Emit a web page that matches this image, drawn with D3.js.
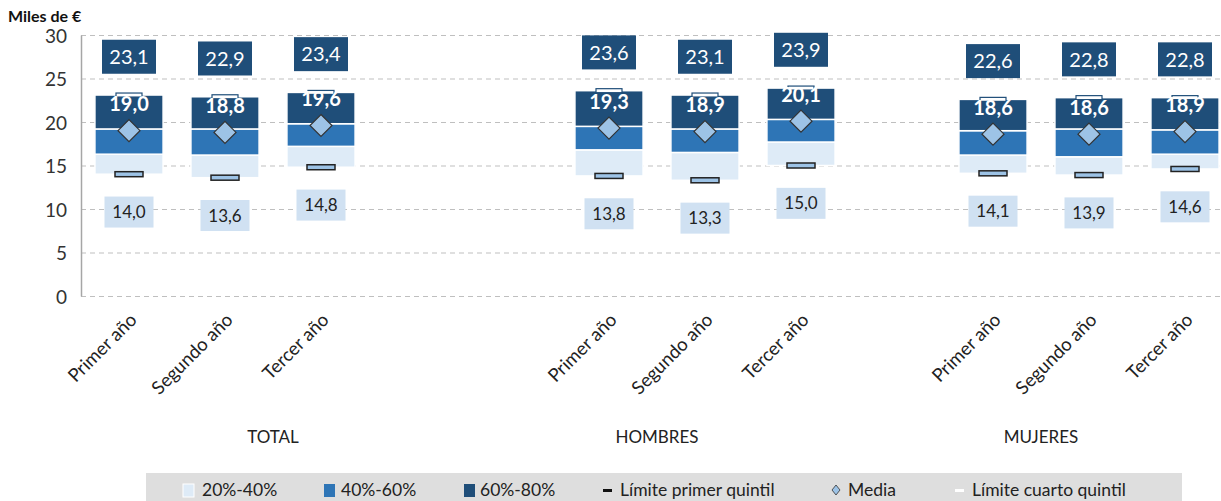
<!DOCTYPE html>
<html><head><meta charset="utf-8">
<script src="https://cdn.jsdelivr.net/npm/d3@7"></script>
<style>
body{margin:0;background:#fff;}
svg text{font-family:Lato,"Open Sans",sans-serif;}
</style></head>
<body><svg id="c" width="1221" height="501"></svg>
<script>
const groups = ["TOTAL","HOMBRES","MUJERES"];
const years = ["Primer año","Segundo año","Tercer año"];
// order: TOTAL(3), HOMBRES(3), MUJERES(3)
const p20  = [14.0,13.6,14.8, 13.8,13.3,15.0, 14.1,13.9,14.6];
const p40  = [16.3,16.2,17.2, 16.8,16.5,17.7, 16.2,16.0,16.3];
const p60  = [19.2,19.2,19.8, 19.5,19.2,20.3, 19.0,19.2,19.1];
const p80  = [23.1,22.9,23.4, 23.6,23.1,23.9, 22.6,22.8,22.8];
const media= [19.0,18.8,19.6, 19.3,18.9,20.1, 18.6,18.6,18.9];
const yTicks = [0,5,10,15,20,25,30];
const legendLabels = ["20%-40%","40%-60%","60%-80%","Límite primer quintil","Media","Límite cuarto quintil"];

const C_LIGHT="#deebf7", C_MED="#2e75b6", C_DARK="#1f4e79", C_DIAM="#9dc3e6", C_LBOX="#d0e1f2";
const fmt = v => v.toFixed(1).replace(".", ",");

// slots: each group has 4 slots; TOTAL has gap at end, others at start
const slots = [];
groups.forEach((g,gi)=>{
  if(gi>0) slots.push(g+"|gap");
  years.forEach(y=>slots.push(g+"|"+y));
  if(gi===0) slots.push(g+"|gap");
});
const data = [];
groups.forEach((g,gi)=>years.forEach((y,yi)=>{
  const i=gi*3+yi;
  data.push({key:g+"|"+y, year:y, group:g, p20:p20[i],p40:p40[i],p60:p60[i],p80:p80[i],mean:media[i]});
}));

const svg = d3.select("#c");
const x = d3.scaleBand().domain(slots).range([81,1233]).paddingInner(0.29).paddingOuter(0.145);
const y = d3.scaleLinear().domain([0,30]).range([296,35]);

// gridlines
svg.append("g").selectAll("line").data(yTicks).join("line")
  .attr("x1",81).attr("x2",1221).attr("y1",d=>y(d)+0.5).attr("y2",d=>y(d)+0.5)
  .attr("stroke","#bfbfbf").attr("stroke-width",1).attr("stroke-dasharray","5,4");
// y axis
const yAx = svg.append("g").attr("transform","translate(81,0)")
  .call(d3.axisLeft(y).tickValues(yTicks).tickSize(0).tickPadding(14));
yAx.select(".domain").attr("stroke","#a6a6a6").attr("stroke-width",1.5);
yAx.selectAll("text").attr("font-size",19).attr("fill","#333").attr("dy","0.38em");

svg.append("text").attr("x",8).attr("y",22).attr("font-size",16).attr("font-weight","bold")
  .attr("fill","#111").text("Miles de €");

const bw = x.bandwidth();
const bars = svg.append("g");
const segs = [["p20","p40",C_LIGHT],["p40","p60",C_MED],["p60","p80",C_DARK]];
data.forEach(d=>{
  segs.forEach(([a,b,c])=>{
    bars.append("rect").attr("x",x(d.key)).attr("width",bw)
      .attr("y",y(d[b])).attr("height",y(d[a])-y(d[b]))
      .attr("fill",c).attr("stroke","#fff").attr("stroke-width",1.5);
  });
});
const cx = d => x(d.key)+bw/2;
const marks = svg.append("g");
// first quintile limit markers
marks.selectAll(".q1").data(data).join("rect")
  .attr("x",d=>cx(d)-14).attr("y",d=>y(d.p20)-2.5).attr("width",28).attr("height",5)
  .attr("fill",C_DIAM).attr("stroke","#222").attr("stroke-width",1.5);
// fourth quintile limit markers
marks.selectAll(".q4").data(data).join("rect")
  .attr("x",d=>cx(d)-13).attr("y",d=>y(d.p80)-2).attr("width",26).attr("height",4)
  .attr("fill","#fff").attr("stroke",C_DARK).attr("stroke-width",1.2);
// mean diamonds
marks.selectAll(".m").data(data).join("path")
  .attr("d",d=>{const X=cx(d),Y=y(d.mean),r=11;return `M${X},${Y-r}L${X+r},${Y}L${X},${Y+r}L${X-r},${Y}Z`;})
  .attr("fill",C_DIAM).attr("stroke","#333").attr("stroke-width",1.2);

// labels
const lab = svg.append("g");
data.forEach(d=>{
  const X=cx(d);
  const yt=y(d.p80+4.4);
  lab.append("rect").attr("x",X-27).attr("y",yt-17).attr("width",54).attr("height",34).attr("fill",C_DARK);
  lab.append("text").attr("x",X).attr("y",yt).attr("dy","0.36em").attr("text-anchor","middle")
    .attr("font-size",20).attr("fill","#fff").text(fmt(d.p80));
  const yb=y(d.p20-4.35);
  lab.append("rect").attr("x",X-24.5).attr("y",yb-15.5).attr("width",49).attr("height",31).attr("fill",C_LBOX);
  lab.append("text").attr("x",X).attr("y",yb).attr("dy","0.36em").attr("text-anchor","middle")
    .attr("font-size",17).attr("fill","#222").text(fmt(d.p20));
  lab.append("text").attr("x",X).attr("y",y(d.mean+3.05)).attr("dy","0.36em").attr("text-anchor","middle")
    .attr("font-size",20).attr("font-weight","bold").attr("fill","#fff").text(fmt(d.mean));
});

// x category labels
svg.append("g").selectAll("text").data(data).join("text")
  .attr("transform",d=>`translate(${cx(d)+9},${321}) rotate(-45)`)
  .attr("text-anchor","end").attr("font-size",18.5).attr("fill","#222").text(d=>d.year);
// group labels
svg.append("g").selectAll("text").data(groups).join("text")
  .attr("x",(g,gi)=>{const s=slots.filter(k=>k.startsWith(g+"|"));return (x(s[0])+x(s[s.length-1])+bw)/2;})
  .attr("y",443).attr("text-anchor","middle").attr("font-size",17).attr("fill","#222").text(d=>d);

// legend
const lg = svg.append("g");
lg.append("rect").attr("x",146).attr("y",473).attr("width",1036).attr("height",28).attr("fill","#dedede");
const lx=[183,324,464,603,831,955];
const ly=490;
lg.append("rect").attr("x",lx[0]).attr("y",484).attr("width",11).attr("height",13).attr("fill",C_LIGHT).attr("stroke","#fff");
lg.append("rect").attr("x",lx[1]).attr("y",484).attr("width",11).attr("height",13).attr("fill",C_MED);
lg.append("rect").attr("x",lx[2]).attr("y",484).attr("width",11).attr("height",13).attr("fill",C_DARK);
lg.append("rect").attr("x",lx[3]).attr("y",489).attr("width",9).attr("height",3).attr("fill","#111");
lg.append("path").attr("d",`M${lx[4]+5},${485}L${lx[4]+9},${490}L${lx[4]+5},${495}L${lx[4]+1},${490}Z`).attr("fill",C_DIAM).attr("stroke","#333").attr("stroke-width",0.8);
lg.append("rect").attr("x",lx[5]).attr("y",489).attr("width",9).attr("height",3).attr("fill","#fff");
const tx=[202,341,480,620,848,972];
lg.selectAll("text.l").data(legendLabels).join("text")
  .attr("x",(d,i)=>tx[i]).attr("y",ly).attr("dy","0.36em").attr("font-size",17.5).attr("fill","#222").text(d=>d);
</script></body></html>
